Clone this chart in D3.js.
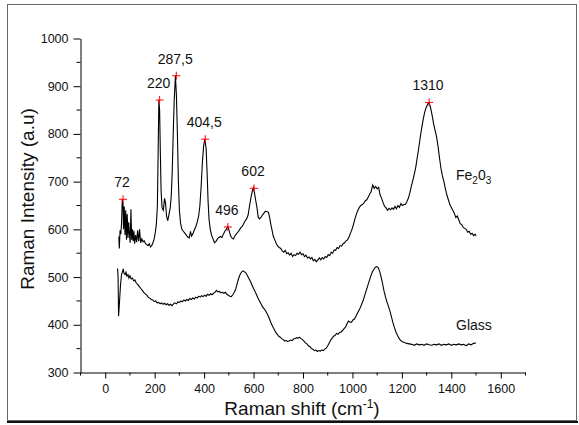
<!DOCTYPE html>
<html>
<head>
<meta charset="utf-8">
<script src="https://cdn.jsdelivr.net/npm/d3@7"></script>
<style>
  body { margin: 0; background: #fff; }
  text { font-family: Arial, "Liberation Sans", sans-serif; fill: #111; }
</style>
</head>
<body>
<svg id="chart"></svg>
<script>
// Fe2O3 spectrum [shift, intensity]
const fe2o3Spectrum = [
  [55,585],[57,560],[60,598],[63,590],[66,612],[69,663],[72,655],[74,600],[77,648],[80,588],[83,640],[86,578],[89,632],[92,582],[95,615],[98,590],[101,572],[104,642],[107,578],[110,600],[113,575],[116,597],[119,570],[123,588],[127,573],[131,598],[135,575],[139,600],[143,572],[148,580],[153,574],[158,576],[163,570],[168,568],[173,566],[178,570],[183,563],[188,566],[193,572],[198,580],[203,595],[207,612],[211,650],[214,760],[217,871],[220,850],[223,760],[226,680],[230,645],[235,640],[240,665],[244,655],[248,628],[253,618],[258,632],[263,645],[267,670],[271,720],[275,800],[279,870],[284,922],[288,880],[292,800],[296,700],[300,640],[305,612],[310,600],[316,596],[322,592],[328,588],[334,584],[340,582],[345,596],[349,586],[354,590],[360,598],[366,605],[372,615],[378,628],[383,650],[388,690],[393,740],[398,775],[403,789],[408,770],[412,720],[416,660],[420,620],[425,600],[430,588],[436,580],[442,572],[448,575],[454,580],[460,583],[466,585],[472,583],[478,590],[484,596],[490,600],[496,606],[501,598],[506,588],[512,582],[518,580],[524,586],[530,590],[536,594],[542,598],[548,603],[554,606],[560,612],[566,618],[572,622],[578,630],[584,650],[590,668],[595,680],[599,687],[604,676],[609,660],[614,645],[619,625],[624,622],[630,625],[636,630],[642,634],[648,638],[654,637],[660,636],[665,625],[670,610],[675,598],[680,585],[686,578],[692,570],[698,565],[704,562],[710,560],[716,555],[722,552],[728,556],[734,549],[740,551],[746,546],[752,550],[758,543],[764,547],[770,545],[776,550],[782,548],[788,552],[794,547],[800,549],[806,543],[812,546],[818,540],[824,542],[830,538],[836,541],[842,534],[848,537],[854,532],[860,536],[866,540],[872,536],[878,541],[884,538],[890,543],[896,541],[902,547],[908,545],[914,552],[920,550],[926,557],[932,556],[938,562],[944,560],[950,566],[956,565],[962,570],[968,572],[974,576],[980,578],[986,584],[992,592],[998,600],[1004,610],[1010,622],[1016,632],[1022,640],[1028,646],[1034,650],[1040,652],[1046,655],[1052,660],[1058,662],[1064,668],[1070,674],[1076,680],[1082,693],[1088,686],[1094,690],[1100,685],[1106,688],[1112,672],[1118,665],[1124,656],[1130,648],[1136,645],[1142,640],[1148,644],[1154,641],[1160,645],[1166,642],[1172,648],[1178,643],[1184,650],[1190,646],[1196,654],[1202,650],[1208,652],[1214,652],[1220,658],[1226,665],[1232,676],[1238,690],[1244,702],[1250,715],[1256,730],[1262,750],[1268,770],[1274,792],[1280,812],[1286,830],[1292,845],[1298,855],[1304,862],[1310,866],[1316,855],[1322,840],[1328,822],[1334,808],[1340,795],[1346,775],[1352,750],[1358,728],[1364,712],[1370,700],[1376,685],[1382,672],[1388,662],[1394,652],[1400,646],[1406,640],[1412,634],[1418,625],[1424,628],[1430,620],[1436,612],[1442,610],[1448,604],[1454,602],[1460,600],[1466,594],[1472,596],[1478,590],[1484,592],[1490,587],[1496,590],[1500,586]
];

// glass substrate spectrum [shift, intensity]
const glassSpectrum = [
  [50,518],[52,500],[54,418],[58,450],[62,485],[66,505],[70,512],[73,517],[76,508],[80,505],[84,510],[88,502],[92,505],[96,498],[100,503],[105,496],[110,498],[115,492],[120,494],[126,487],[132,484],[138,480],[144,476],[150,472],[156,468],[162,465],[168,462],[174,458],[180,456],[186,453],[192,452],[198,449],[204,450],[210,446],[216,447],[222,444],[228,446],[234,443],[240,445],[246,442],[252,444],[258,441],[264,443],[270,440],[276,444],[282,446],[288,444],[294,448],[300,447],[306,450],[312,448],[318,452],[324,450],[330,453],[336,451],[342,455],[348,453],[354,456],[360,454],[366,458],[372,456],[378,460],[384,458],[390,461],[396,459],[402,462],[408,460],[414,464],[420,462],[426,465],[432,463],[438,466],[444,468],[450,472],[456,469],[462,470],[468,467],[474,468],[480,466],[486,468],[492,464],[498,462],[504,460],[510,459],[516,463],[522,468],[528,475],[534,487],[540,498],[546,506],[552,511],[558,513],[564,511],[570,508],[576,502],[582,496],[588,490],[594,483],[600,476],[606,470],[612,463],[618,456],[624,450],[630,444],[636,438],[642,434],[648,430],[654,424],[660,418],[666,410],[672,402],[678,396],[684,390],[690,384],[696,380],[702,376],[708,374],[714,371],[720,369],[726,366],[732,367],[738,365],[744,366],[750,368],[756,367],[762,370],[768,371],[774,373],[780,372],[786,374],[792,371],[798,369],[804,366],[810,362],[816,360],[822,356],[828,354],[834,350],[840,349],[846,346],[852,347],[858,344],[864,346],[870,345],[876,347],[882,346],[888,349],[894,351],[900,356],[906,362],[912,368],[918,372],[924,376],[930,378],[936,382],[942,380],[948,384],[954,385],[960,388],[966,392],[972,395],[978,402],[984,408],[990,406],[996,405],[1002,410],[1008,412],[1014,418],[1020,424],[1026,430],[1032,436],[1038,444],[1044,452],[1050,462],[1056,472],[1062,482],[1068,492],[1074,502],[1080,510],[1086,516],[1092,520],[1098,522],[1104,520],[1110,512],[1116,500],[1122,486],[1128,470],[1134,458],[1140,447],[1146,438],[1152,428],[1158,416],[1164,404],[1170,394],[1176,385],[1182,378],[1188,372],[1194,368],[1200,365],[1210,363],[1220,361],[1230,360],[1240,359],[1250,357],[1260,360],[1270,358],[1280,359],[1290,357],[1300,360],[1310,358],[1320,357],[1330,359],[1340,358],[1350,360],[1360,357],[1370,359],[1380,358],[1390,360],[1400,357],[1410,359],[1420,358],[1430,360],[1440,358],[1450,359],[1460,356],[1470,360],[1480,358],[1490,361],[1500,362]
];

const peakShifts = [72, 220, 287.5, 404.5, 496, 602, 1310];
const peakIntensities = [663, 871, 922, 789, 605, 686, 866];
const peakLabels = ["72", "220", "287,5", "404,5", "496", "602", "1310"];

const xTicks = [0, 200, 400, 600, 800, 1000, 1200, 1400, 1600];
const yTicks = [300, 400, 500, 600, 700, 800, 900, 1000];

const W = 579, H = 425;
const svg = d3.select("#chart").attr("width", W).attr("height", H);

// outer frame
svg.append("rect")
    .attr("x", 7.5).attr("y", 4.5)
    .attr("width", 569).attr("height", 416)
    .attr("fill", "none").attr("stroke", "#666").attr("stroke-width", 1);
svg.append("line")
    .attr("x1", 7).attr("x2", 578).attr("y1", 422).attr("y2", 422)
    .attr("stroke", "#111").attr("stroke-width", 2);

const x = d3.scaleLinear().domain([-100, 1700]).range([80.5, 525.5]);
const y = d3.scaleLinear().domain([300, 1000]).range([372.5, 38.5]);

// axes: major ticks with labels, minor ticks between
const xMinor = d3.range(-100, 1701, 100).filter(v => !xTicks.includes(v));
const yMinor = d3.range(350, 1000, 100);

const xAxis = svg.append("g").attr("transform", `translate(0,${y(300)})`);
xAxis.call(d3.axisBottom(x).tickValues(xTicks).tickFormat(d3.format("d"))
    .tickSize(6).tickPadding(6).tickSizeOuter(0));
xAxis.append("g").selectAll("line").data(xMinor).join("line")
    .attr("x1", d => x(d)).attr("x2", d => x(d))
    .attr("y1", 0).attr("y2", 3).attr("stroke", "#000");

const yAxis = svg.append("g").attr("transform", `translate(${x(-100)},0)`);
yAxis.call(d3.axisLeft(y).tickValues(yTicks).tickFormat(d3.format("d"))
    .tickSize(7).tickPadding(5).tickSizeOuter(0));
yAxis.append("g").selectAll("line").data(yMinor).join("line")
    .attr("x1", 0).attr("x2", -4)
    .attr("y1", d => y(d)).attr("y2", d => y(d)).attr("stroke", "#000");

svg.selectAll(".tick text").style("font-size", "12.5px").attr("fill", "#111");
svg.selectAll(".domain, .tick line").attr("stroke", "#000");

// axis titles
const xTitle = svg.append("text")
    .attr("x", 302).attr("y", 415)
    .attr("text-anchor", "middle")
    .style("font-size", "19px");
xTitle.append("tspan").text("Raman shift (cm");
xTitle.append("tspan").attr("dy", -7).style("font-size", "12px").text("-1");
xTitle.append("tspan").attr("dy", 7).text(")");

svg.append("text")
    .attr("transform", "translate(34,199) rotate(-90)")
    .attr("text-anchor", "middle")
    .style("font-size", "19px")
    .text("Raman Intensity (a.u)");

// spectra
const line = d3.line().x(d => x(d[0])).y(d => y(d[1]));

svg.append("path")
    .datum(fe2o3Spectrum)
    .attr("d", line)
    .attr("fill", "none").attr("stroke", "#000").attr("stroke-width", 1.1);

svg.append("path")
    .datum(glassSpectrum)
    .attr("d", line)
    .attr("fill", "none").attr("stroke", "#000").attr("stroke-width", 1.1);

// peak markers and labels
const peaks = peakShifts.map((s, i) => ({ s: s, v: peakIntensities[i], label: peakLabels[i] }));

const cross = svg.append("g").selectAll("g").data(peaks).join("g")
    .attr("transform", d => `translate(${x(d.s)},${y(d.v)})`);
cross.append("line").attr("x1", -4).attr("x2", 4).attr("stroke", "red");
cross.append("line").attr("y1", -4).attr("y2", 4).attr("stroke", "red");

svg.append("g").selectAll("text").data(peaks).join("text")
    .attr("x", d => x(d.s) - 1)
    .attr("y", d => y(d.v) - 12)
    .attr("text-anchor", "middle")
    .style("font-size", "14px")
    .text(d => d.label);

// series labels
const feLabel = svg.append("text")
    .attr("x", 456).attr("y", 180)
    .style("font-size", "14px");
feLabel.append("tspan").text("Fe");
feLabel.append("tspan").attr("dy", 4).style("font-size", "10px").text("2");
feLabel.append("tspan").attr("dy", -4).text("0");
feLabel.append("tspan").attr("dy", 4).style("font-size", "10px").text("3");

svg.append("text")
    .attr("x", 456).attr("y", 330)
    .style("font-size", "14px")
    .text("Glass");
</script>
</body>
</html>
